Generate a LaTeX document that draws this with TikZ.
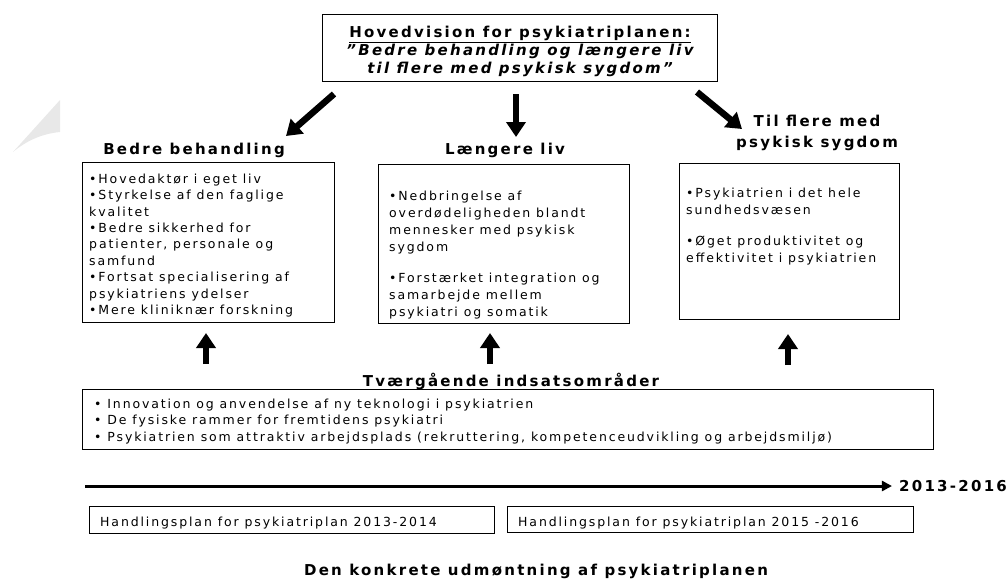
\documentclass[tikz,border=0pt]{standalone}
\usepackage{fontspec}
\setmainfont{DejaVu Sans}[LetterSpace=15]
\usetikzlibrary{arrows.meta}

\begin{document}
\begin{tikzpicture}[x=1pt,y=-1pt,
	box/.style={draw, line width=0.9pt, inner sep=0pt},
	txt/.style={anchor=north west, align=left, inner sep=0pt, font=\fontsize{12.5}{16.6}\selectfont,
		execute at begin node=\strut},
	ttl/.style={inner sep=0pt, font=\fontsize{15}{21}\selectfont\bfseries},
	fat/.style={line width=6.5pt, -{Triangle[length=15pt,width=19pt]}},
]
	\useasboundingbox (0,0) rectangle (1008,579);
	% faint scrap at the left edge
	\fill[gray!18] (13,152) -- (60,100) -- (60,132) .. controls (40,134) and (25,142) .. (13,152);

	% vision on top
	\node[box, anchor=north west, minimum width=395, minimum height=67] (vision) at (322,14) {};
	\node[align=center, inner sep=0pt, font=\fontsize{15}{18}\selectfont\bfseries] (visiontxt) at (520,51)
		{\underline{Hovedvision for psykiatriplanen:}\\
		 \itshape ”Bedre behandling og længere liv\\
		 \itshape til flere med psykisk sygdom”};

	% three headings
	\node[ttl] (bb) at (194,150) {Bedre behandling};
	\node[ttl] (ll) at (505,150) {Længere liv};
	\node[ttl, align=center] (tf) at (817,133) {Til flere med\\psykisk sygdom};

	\coordinate (a1) at (334,94);  \coordinate (b1) at (286,136);
	\coordinate (a2) at (516,94);  \coordinate (b2) at (516,137);
	\coordinate (a3) at (697,92);  \coordinate (b3) at (742,129);
	\draw[fat] (a1) -- (b1);
	\draw[fat] (a2) -- (b2);
	\draw[fat] (a3) -- (b3);

	% the three boxes
	\node[box, anchor=north west, minimum width=252, minimum height=160] (bbbox) at (82,162) {};
	\node[box, anchor=north west, minimum width=251, minimum height=159] (llbox) at (378,164) {};
	\node[box, anchor=north west, minimum width=220, minimum height=156] (tfbox) at (679,163) {};

	\node[txt, font=\fontsize{12.5}{16.4}\selectfont] (bbtxt) at (89,173.5) {•Hovedaktør i eget liv\\•Styrkelse af den faglige\\kvalitet\\
		•Bedre sikkerhed for\\patienter, personale og\\samfund\\
		•Fortsat specialisering af\\psykiatriens ydelser\\•Mere kliniknær forskning};
	\node[txt, font=\fontsize{12.5}{17.2}\selectfont] (lltxt) at (389,190.5) {•Nedbringelse af\\overdødeligheden blandt\\mennesker med psykisk\\sygdom\\[13.5pt]
		•Forstærket integration og\\samarbejde mellem\\psykiatri og somatik};
	\node[txt, font=\fontsize{12.5}{17}\selectfont] (tftxt) at (686,188) {•Psykiatrien i det hele\\sundhedsvæsen\\[14pt]
		•Øget produktivitet og\\effektivitet i psykiatrien};

	% arrows up from the common ground
	\coordinate (c1) at (206,364);  \coordinate (d1) at (206,333);
	\coordinate (c2) at (490,364);  \coordinate (d2) at (490,333);
	\coordinate (c3) at (788,365);  \coordinate (d3) at (788,334);
	\draw[fat] (c1) -- (d1);
	\draw[fat] (c2) -- (d2);
	\draw[fat] (c3) -- (d3);

	\node[ttl] (tv) at (511,381) {Tværgående indsatsområder};
	\node[box, anchor=north west, minimum width=851, minimum height=60] (tvbox) at (82,389) {};
	\node[txt, font=\fontsize{12.5}{16.5}\selectfont] (tvtxt) at (94,398.4) {• Innovation og anvendelse af ny teknologi i psykiatrien\\
		• De fysiske rammer for fremtidens psykiatri\\
		• Psykiatrien som attraktiv arbejdsplads (rekruttering, kompetenceudvikling og arbejdsmiljø)};

	% time line
	\node[ttl] (yr) at (953,486) {2013-2016};
	\coordinate (t0) at (85,486);
	\draw[line width=3pt, -{Triangle[length=10pt,width=10pt]}] (t0) -- ([xshift=-7pt]yr.west);

	\node[box, anchor=north west, minimum width=405, minimum height=27] (hp1) at (89,506) {};
	\node[box, anchor=north west, minimum width=406, minimum height=26] (hp2) at (507,506) {};
	\node[txt] (hp1txt) at (100,514.4) {Handlingsplan for psykiatriplan 2013-2014};
	\node[txt] (hp2txt) at (518,514.4) {Handlingsplan for psykiatriplan 2015 -2016};

	\node[ttl] (dk) at (536,571) {Den konkrete udmøntning af psykiatriplanen};
\end{tikzpicture}
\end{document}
